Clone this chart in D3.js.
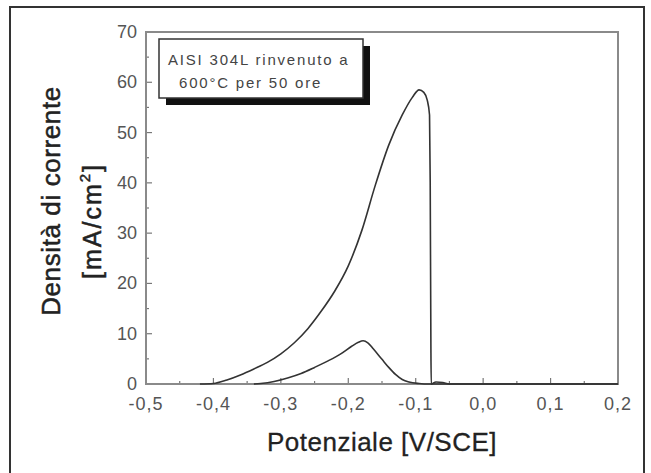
<!DOCTYPE html>
<html>
<head>
<meta charset="utf-8">
<script src="https://cdn.jsdelivr.net/npm/d3@7"></script>
<style>
  body { margin: 0; background: #fff; }
  text { font-family: "Liberation Sans", Arial, sans-serif; }
</style>
</head>
<body>
<div id="chart"></div>
<script>
// curve 1: anodic scan (x = potential V/SCE, y = mA/cm2)
var scanX = [-0.42, -0.40, -0.38, -0.36, -0.34, -0.32, -0.30, -0.28, -0.26, -0.24, -0.22, -0.20, -0.18, -0.16, -0.14, -0.12, -0.105, -0.095, -0.088, -0.083, -0.0795, -0.0785, -0.0775, -0.077, -0.07, -0.06, -0.05, 0.2];
var scanY = [0, 0.1, 0.8, 1.8, 3.0, 4.3, 6.0, 8.2, 11.0, 14.5, 18.5, 23.5, 30.5, 39.5, 47.5, 53.5, 57.0, 58.5, 58.0, 56.5, 53.5, 40, 8, 0, 0.4, 0.3, 0, 0];
// curve 2: reactivation scan
var reactX = [-0.34, -0.33, -0.31, -0.29, -0.27, -0.25, -0.23, -0.21, -0.195, -0.185, -0.178, -0.171, -0.163, -0.15, -0.14, -0.13, -0.12, -0.11, -0.095, -0.08, 0.2];
var reactY = [0, 0.1, 0.5, 1.2, 2.1, 3.3, 4.6, 6.1, 7.5, 8.3, 8.6, 8.2, 7.0, 4.9, 3.3, 1.9, 0.9, 0.4, 0.1, 0, 0];

var xTicks = [-0.5, -0.4, -0.3, -0.2, -0.1, 0.0, 0.1, 0.2];
var yTicks = [0, 10, 20, 30, 40, 50, 60, 70];
var legendLines = ["AISI 304L rinvenuto a", "600\u00b0C per 50 ore"];

var W = 651, H = 473;
var margin = { left: 146, right: 33, top: 32, bottom: 89 };
var width = W - margin.left - margin.right,
    height = H - margin.top - margin.bottom;

var svg = d3.select("#chart").append("svg")
    .attr("width", W)
    .attr("height", H);

// outer frame
svg.append("rect")
    .attr("x", 10).attr("y", 7)
    .attr("width", 634).attr("height", 480)
    .attr("fill", "none")
    .attr("stroke", "#333")
    .attr("stroke-width", 2);

var g = svg.append("g")
    .attr("transform", "translate(" + margin.left + "," + margin.top + ")");

var x = d3.scaleLinear().domain([-0.5, 0.2]).range([0, width]);
var y = d3.scaleLinear().domain([0, 70]).range([height, 0]);

var fmt = function (d) { return d3.format(".1f")(d).replace(".", ",").replace("\u2212", "-"); };

// minor + major ticks (inward)
var xMinor = d3.range(-0.5, 0.2001, 0.05);
var yMinor = d3.range(0, 70.01, 5);

g.selectAll(".xtick").data(xMinor).enter().append("line")
    .attr("x1", d => x(d)).attr("x2", d => x(d))
    .attr("y1", height)
    .attr("y2", (d, i) => height - (i % 2 === 0 ? 6 : 3))
    .attr("stroke", "#777").attr("stroke-width", 1.2);

g.selectAll(".ytick").data(yMinor).enter().append("line")
    .attr("y1", d => y(d)).attr("y2", d => y(d))
    .attr("x1", 0)
    .attr("x2", (d, i) => (i % 2 === 0 ? 6 : 3))
    .attr("stroke", "#777").attr("stroke-width", 1.2);

// plot box
g.append("rect")
    .attr("width", width).attr("height", height)
    .attr("fill", "none")
    .attr("stroke", "#8a8a8a")
    .attr("stroke-width", 2);

// tick labels
g.selectAll(".xlab").data(xTicks).enter().append("text")
    .attr("x", d => x(d))
    .attr("y", height + 26)
    .attr("text-anchor", "middle")
    .attr("font-size", 18)
    .attr("letter-spacing", 1)
    .attr("fill", "#555")
    .text(fmt);

g.selectAll(".ylab").data(yTicks).enter().append("text")
    .attr("x", -9)
    .attr("y", d => y(d) + 6)
    .attr("text-anchor", "end")
    .attr("font-size", 18)
    .attr("fill", "#555")
    .text(d => d);

// curves
var line = d3.line()
    .x(d => x(d[0]))
    .y(d => y(d[1]))
    .curve(d3.curveMonotoneX);

g.append("path")
    .datum(d3.zip(reactX, reactY))
    .attr("d", line)
    .attr("fill", "none")
    .attr("stroke", "#333")
    .attr("stroke-width", 1.6);

g.append("path")
    .datum(d3.zip(scanX, scanY))
    .attr("d", line)
    .attr("fill", "none")
    .attr("stroke", "#333")
    .attr("stroke-width", 1.6);

// legend box with shadow
var lg = svg.append("g").attr("transform", "translate(159,39)");
lg.append("rect")
    .attr("x", 7).attr("y", 7)
    .attr("width", 204).attr("height", 59)
    .attr("fill", "#111");
lg.append("rect")
    .attr("width", 204).attr("height", 59)
    .attr("fill", "#fff")
    .attr("stroke", "#333")
    .attr("stroke-width", 1.5);
lg.selectAll("text").data(legendLines).enter().append("text")
    .attr("x", (d, i) => i === 0 ? 9 : 20)
    .attr("y", (d, i) => 26 + i * 23)
    .attr("font-size", 15)
    .attr("letter-spacing", 1.8)
    .attr("fill", "#444")
    .text(d => d);

// axis titles
svg.append("text")
    .attr("x", margin.left + width / 2)
    .attr("y", 451)
    .attr("text-anchor", "middle")
    .attr("font-size", 26)
    .attr("letter-spacing", 0.5)
    .attr("fill", "#222")
    .attr("stroke", "#222")
    .attr("stroke-width", 0.3)
    .text("Potenziale [V/SCE]");

svg.append("text")
    .attr("transform", "translate(60,201) rotate(-90)")
    .attr("text-anchor", "middle")
    .attr("font-size", 26)
    .attr("letter-spacing", 0.6)
    .attr("fill", "#222")
    .attr("stroke", "#222")
    .attr("stroke-width", 0.5)
    .text("Densit\u00e0 di corrente");

var yt2 = svg.append("text")
    .attr("transform", "translate(101,221) rotate(-90)")
    .attr("text-anchor", "middle")
    .attr("font-size", 25)
    .attr("letter-spacing", 2)
    .attr("fill", "#222")
    .attr("stroke", "#222")
    .attr("stroke-width", 0.5);
yt2.append("tspan").text("[mA/cm");
yt2.append("tspan").attr("font-size", 15).attr("dy", -11).text("2");
yt2.append("tspan").attr("dy", 11).text("]");
</script>
</body>
</html>
